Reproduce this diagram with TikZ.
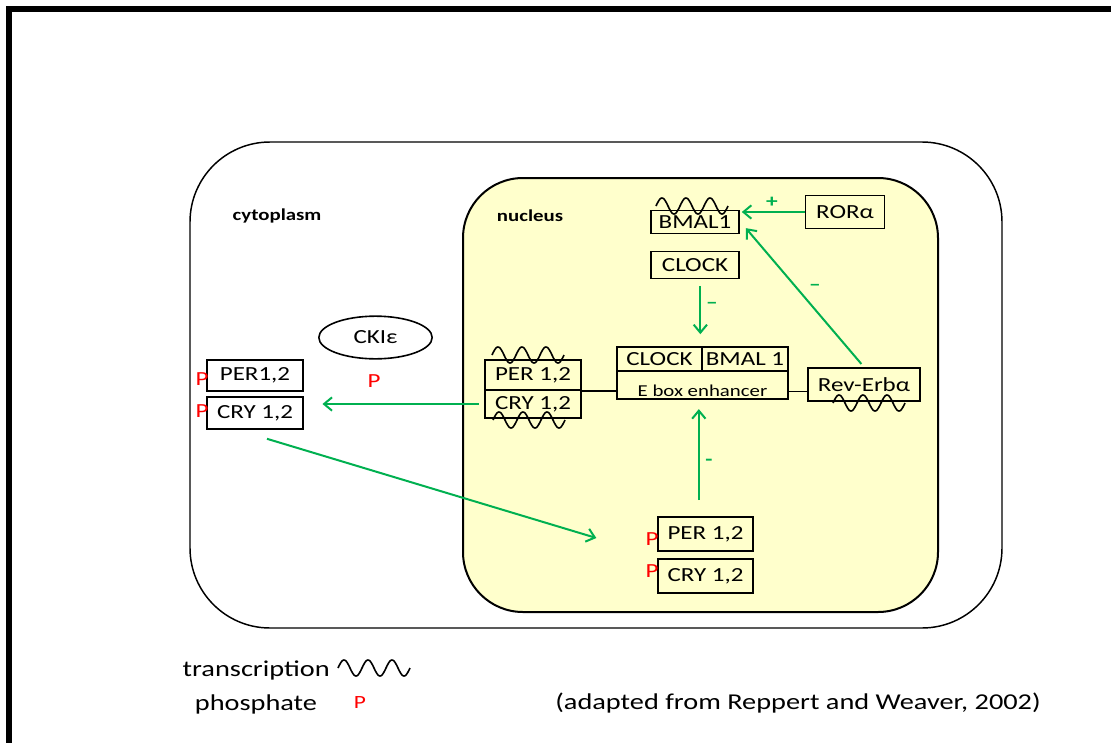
\documentclass[tikz,border=0pt]{standalone}
\usepackage{fontspec}
\setmainfont[FakeStretch=1.25]{Carlito}
\usetikzlibrary{shapes.geometric,arrows.meta}
\definecolor{arrowgreen}{RGB}{0,176,80}
\definecolor{nucfill}{RGB}{255,255,204}
\definecolor{phosred}{RGB}{255,0,0}

\begin{document}
\begin{tikzpicture}[x=0.75pt,y=-0.75pt,
    protein/.style={draw, line width=1.2pt, inner sep=0pt, font=\fontsize{15}{18}\selectfont},
    grarrow/.style={arrowgreen, line width=1.5pt, -{Straight Barb[length=6pt,width=10pt]}},
    sign/.style={text=arrowgreen, font=\fontsize{14}{16}\selectfont\bfseries},
    phos/.style={text=phosred, inner sep=0pt, font=\fontsize{15}{18}\selectfont},
    area/.style={font=\fontsize{12.5}{14}\selectfont\bfseries},
    legend/.style={font=\fontsize{17}{20}\selectfont, inner sep=0pt},
    wave/.pic={\draw[line width=1.2pt] plot[domain=0:1080, samples=100, smooth] ({\x/15}, {-8*sin(\x)});}]
    \useasboundingbox (0,0) rectangle (1111,743);

    % frame, cell and nucleus
    \draw[line width=4.5pt] (9,743) -- (9,9) -- (1111,9);
    \draw[line width=1.1pt, rounded corners=60pt] (190,142) rectangle (1002,628);
    \draw[line width=1.5pt, fill=nucfill, rounded corners=45pt] (463,178) rectangle (938,612);
    \node[area] (cyto) at (277,216) {cytoplasm};
    \node[area] (nuc) at (530,216) {nucleus};

    % nucleus proteins
    \node[protein, minimum width=66pt, minimum height=17pt] (bmal) at (695,222) {BMAL1};
    \node[protein, minimum width=59pt, minimum height=25pt] (ror) at (845,212) {RORα};
    \node[protein, minimum width=66pt, minimum height=20pt] (clock) at (695,265) {CLOCK};
    \node[protein, minimum width=64pt, minimum height=18pt] (cxclock) at (659.5,359) {CLOCK};
    \node[protein, minimum width=64.5pt, minimum height=18pt] (cxbmal) at (745,359) {BMAL 1};
    \node[protein, minimum width=128pt, minimum height=21pt, text height=17pt, text depth=-1pt,
          font=\fontsize{12.5}{14}\selectfont] (ebox) at (702.5,385) {E box enhancer};
    \node[protein, minimum width=84pt, minimum height=25pt] (reverb) at (864,384.5) {Rev-Erbα};
    \node[protein, minimum width=72pt, minimum height=22.5pt] (nper) at (533,375) {PER 1,2};
    \node[protein, minimum width=72pt, minimum height=21pt] (ncry) at (533,404) {CRY 1,2};
    \node[protein, minimum width=71pt, minimum height=25.5pt] (bper) at (705.5,534) {PER 1,2};
    \node[protein, minimum width=71pt, minimum height=25.5pt] (bcry) at (705.5,576) {CRY 1,2};

    % cytoplasm proteins
    \node[protein, minimum width=72pt, minimum height=23pt] (lper) at (255,375.5) {PER1,2};
    \node[protein, minimum width=72pt, minimum height=24pt] (lcry) at (255,413) {CRY 1,2};
    \node[draw, ellipse, line width=1.2pt, minimum width=85pt, minimum height=32pt,
          font=\fontsize{15}{18}\selectfont] (cki) at (375.5,337.5) {CKIε};

    % phosphates
    \node[phos] (plper) at (202,379) {P};
    \node[phos] (plcry) at (202,411) {P};
    \node[phos] (pcki) at (374,381) {P};
    \node[phos] (pbper) at (652,539) {P};
    \node[phos] (pbcry) at (652,571) {P};

    % transcription waves
    \pic at (656,206) {wave};
    \pic at (492,355) {wave};
    \pic at (493,420) {wave};
    \pic at (833,403) {wave};

    % connectors
    \draw[line width=1.1pt] (nper.south east) -- (nper.south east -| ebox.west);
    \draw[line width=1.1pt] ([yshift=-5pt]ebox.east) -- ([yshift=-5pt]ebox.east -| reverb.west);
    \draw[grarrow, shorten >=1.5pt] (ror.west) -- (ror.west -| bmal.east);
    \draw[grarrow, shorten <=3pt] (reverb.north) -- ([shift={(6,-6)}]bmal.south east);
    \draw[grarrow, shorten <=5pt, shorten >=9pt] ([xshift=4pt]clock.south) -- ([xshift=4pt]clock.south |- cxclock.north);
    \draw[grarrow, shorten <=12pt, shorten >=7pt] ([xshift=-5pt]bper.north) -- ([xshift=-5pt]bper.north |- ebox.south);
    \draw[grarrow, shorten <=4pt, shorten >=14pt] (ncry.west) -- (ncry.west -| lcry.east);
    \draw[grarrow] ([shift={(12,9)}]lcry.south) -- ([shift={(-61,4)}]bper.west);

    % signs
    \node[sign] (plus) at (772,202) {+};
    \node[sign] (minusa) at (712,305) {--};
    \node[sign] (minusb) at (815,287) {--};
    \node[sign] (minusc) at (709,462) {-};

    % legend
    \node[legend, anchor=east] (transtxt) at (330,670) {transcription};
    \pic at (338,668) {wave};
    \node[legend] (phostxt) at (256,704) {phosphate};
    \node[phos, font=\fontsize{14}{16}\selectfont] (plegend) at (360,703) {P};
    \node[legend] (credit) at (798,703) {(adapted from Reppert and Weaver, 2002)};
\end{tikzpicture}
\end{document}
